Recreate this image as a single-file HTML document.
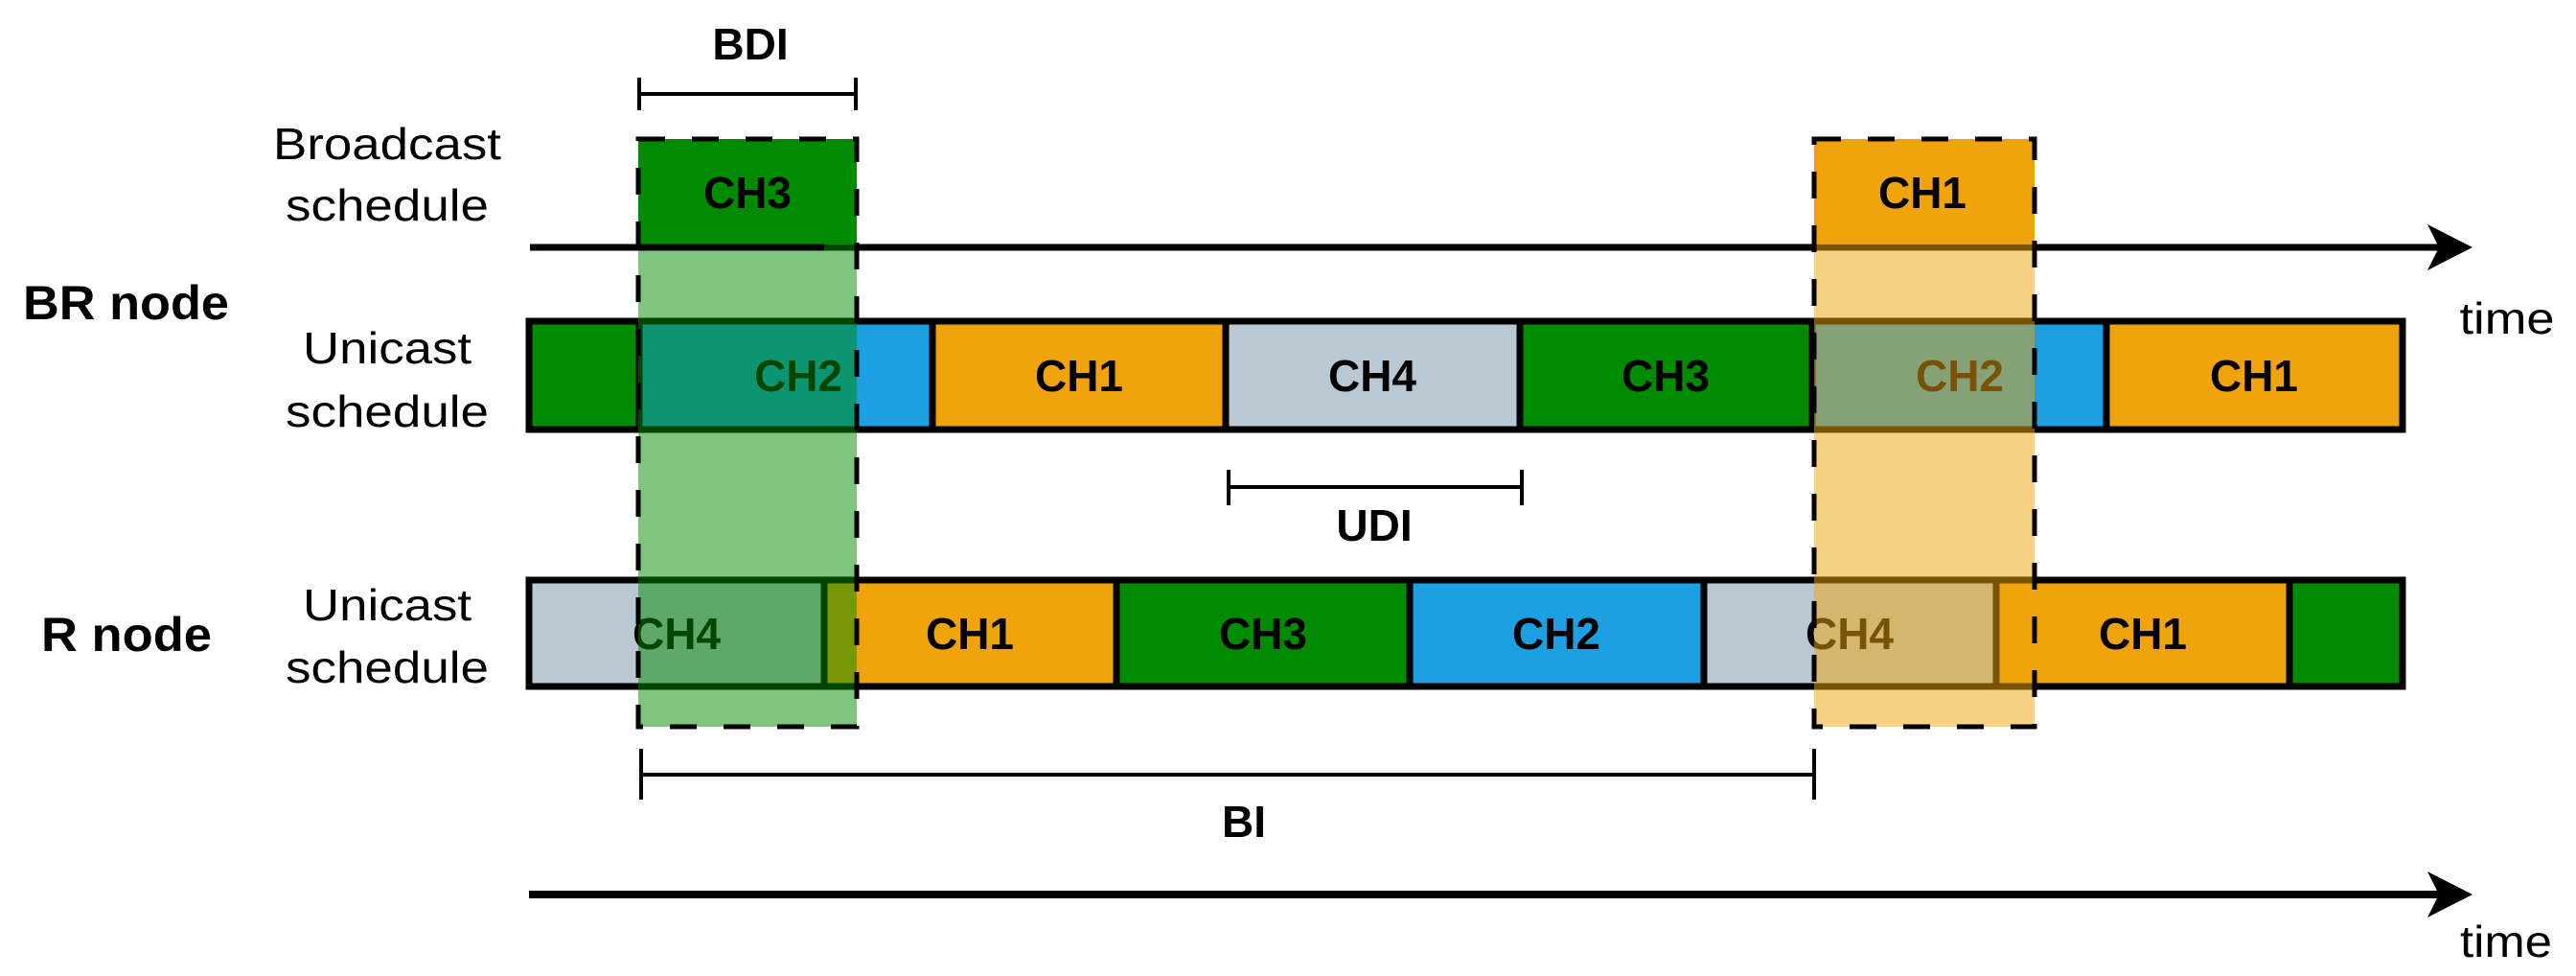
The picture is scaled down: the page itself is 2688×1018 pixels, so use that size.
<!DOCTYPE html>
<html><head><meta charset="utf-8"><style>
html,body{margin:0;padding:0;background:#fff}
svg{display:block}
text{font-family:"Liberation Sans",Arial,sans-serif}
</style></head><body>
<svg width="2688" height="1018" viewBox="0 0 2688 1018" xmlns="http://www.w3.org/2000/svg">
<!-- labels left -->
<g font-size="46" fill="#000" text-anchor="middle">
<text x="404" y="166" textLength="238" lengthAdjust="spacingAndGlyphs">Broadcast</text>
<text x="404" y="230" textLength="212" lengthAdjust="spacingAndGlyphs">schedule</text>
<text x="404" y="379" textLength="176" lengthAdjust="spacingAndGlyphs">Unicast</text>
<text x="404" y="445" textLength="212" lengthAdjust="spacingAndGlyphs">schedule</text>
<text x="404" y="647" textLength="176" lengthAdjust="spacingAndGlyphs">Unicast</text>
<text x="404" y="712" textLength="212" lengthAdjust="spacingAndGlyphs">schedule</text>
<text x="2616" y="348" textLength="99" lengthAdjust="spacingAndGlyphs">time</text>
<text x="2615" y="998" textLength="96" lengthAdjust="spacingAndGlyphs">time</text>
</g>
<g font-size="50" font-weight="bold" fill="#000">
<text x="24" y="333" textLength="215" lengthAdjust="spacingAndGlyphs">BR node</text>
<text x="43" y="679" textLength="178" lengthAdjust="spacingAndGlyphs">R node</text>
</g>
<g font-size="46" font-weight="bold" fill="#000" text-anchor="middle">
<text x="783" y="62">BDI</text>
<text x="1434" y="564">UDI</text>
<text x="1298" y="873">BI</text>
</g>
<!-- brackets -->
<g stroke="#000" stroke-width="4">
<line x1="667" y1="98" x2="893" y2="98"/><line x1="667" y1="81" x2="667" y2="115"/><line x1="893" y1="81" x2="893" y2="115"/>
<line x1="1282" y1="508" x2="1588" y2="508"/><line x1="1282" y1="490" x2="1282" y2="527"/><line x1="1588" y1="490" x2="1588" y2="527"/>
<line x1="669" y1="808" x2="1893" y2="808"/><line x1="669" y1="781" x2="669" y2="834"/><line x1="1893" y1="781" x2="1893" y2="834"/>
</g>
<!-- BR unicast bar -->
<g stroke="#000" stroke-width="7">
<rect x="552" y="335" width="115" height="113" fill="#008a00"/>
<rect x="667" y="335" width="306" height="113" fill="#1ba1e2"/>
<rect x="973" y="335" width="306" height="113" fill="#f0a30a"/>
<rect x="1279" y="335" width="307" height="113" fill="#bac8d3"/>
<rect x="1586" y="335" width="305" height="113" fill="#008a00"/>
<rect x="1891" y="335" width="307" height="113" fill="#1ba1e2"/>
<rect x="2198" y="335" width="309" height="113" fill="#f0a30a"/>
</g>
<!-- R unicast bar -->
<g stroke="#000" stroke-width="7">
<rect x="552" y="605" width="308" height="111" fill="#bac8d3"/>
<rect x="860" y="605" width="305" height="111" fill="#f0a30a"/>
<rect x="1165" y="605" width="306" height="111" fill="#008a00"/>
<rect x="1471" y="605" width="307" height="111" fill="#1ba1e2"/>
<rect x="1778" y="605" width="305" height="111" fill="#bac8d3"/>
<rect x="2083" y="605" width="306" height="111" fill="#f0a30a"/>
<rect x="2389" y="605" width="118" height="111" fill="#008a00"/>
</g>
<g font-size="46" font-weight="bold" fill="#000" text-anchor="middle">
<text x="833" y="408">CH2</text>
<text x="1126" y="408">CH1</text>
<text x="1432" y="408">CH4</text>
<text x="1738" y="408">CH3</text>
<text x="2045" y="408">CH2</text>
<text x="2352" y="408">CH1</text>
<text x="706" y="677">CH4</text>
<text x="1012" y="677">CH1</text>
<text x="1318" y="677">CH3</text>
<text x="1624" y="677">CH2</text>
<text x="1930" y="677">CH4</text>
<text x="2236" y="677">CH1</text>
</g>
<!-- top broadcast line -->
<line x1="553" y1="258" x2="2545" y2="258" stroke="#000" stroke-width="7"/>
<polygon points="2580,258 2533,234 2545,258 2533,282" fill="#000"/>
<!-- bottom timeline -->
<line x1="552" y1="933" x2="2545" y2="933" stroke="#000" stroke-width="8"/>
<polygon points="2580,933 2533,909 2545,933 2533,957" fill="#000"/>
<!-- overlays -->
<rect x="666" y="145" width="228" height="613" fill="#008a00" fill-opacity="0.5"/>
<rect x="1893" y="145" width="230" height="613" fill="#f0a30a" fill-opacity="0.5"/>
<rect x="666" y="145" width="228" height="110" fill="#008a00"/>
<rect x="1893" y="145" width="230" height="110" fill="#f0a30a"/>
<line x1="666" y1="258" x2="860" y2="258" stroke="#000" stroke-width="7"/>
<g font-size="46" font-weight="bold" fill="#000" text-anchor="middle">
<text x="780" y="217">CH3</text>
<text x="2006" y="217">CH1</text>
</g>
<g fill="none" stroke="#000" stroke-width="5" stroke-dasharray="28 28">
<rect x="666" y="145" width="228" height="613"/>
<rect x="1893" y="145" width="230" height="613"/>
</g>
</svg>
</body></html>
